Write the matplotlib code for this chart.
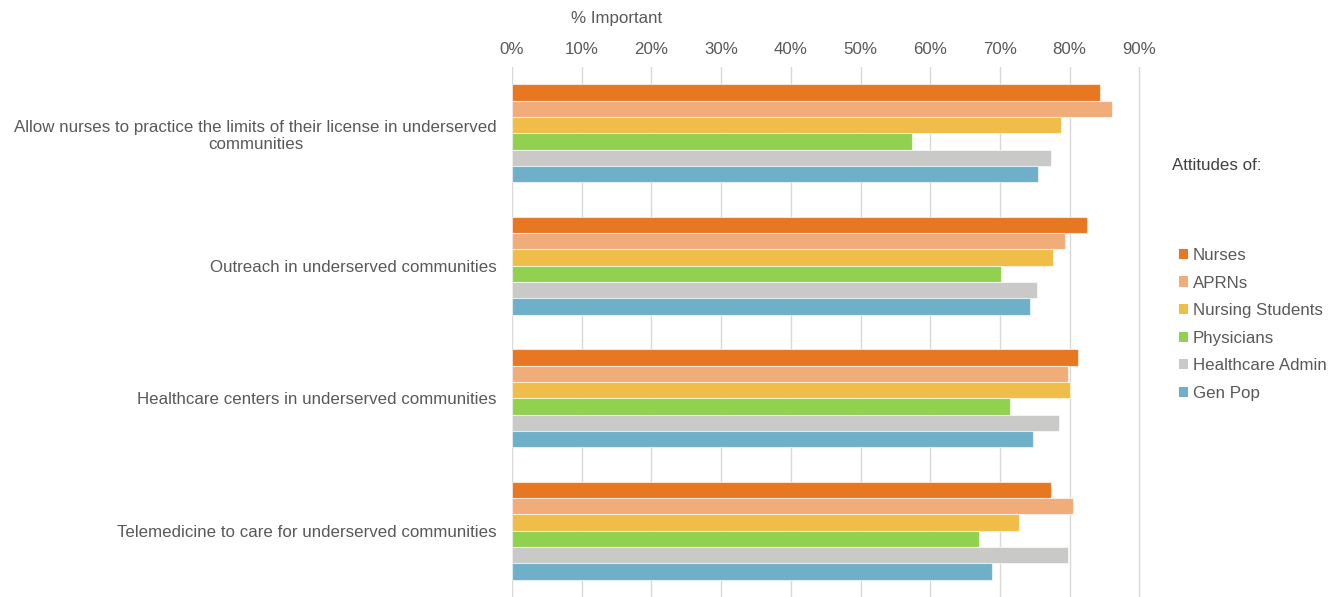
import numpy as np
import matplotlib
matplotlib.use("Agg")
import matplotlib.pyplot as plt
from matplotlib.patches import Patch
from matplotlib.ticker import PercentFormatter

plt.rcParams['font.family'] = ['Liberation Sans', 'DejaVu Sans']

# data
categories = [
    "Allow nurses to practice the limits of their license in underserved\ncommunities",
    "Outreach in underserved communities",
    "Healthcare centers in underserved communities",
    "Telemedicine to care for underserved communities",
]
groups = ["Nurses", "APRNs", "Nursing Students", "Physicians", "Healthcare Admin", "Gen Pop"]
nurses = [84.3, 82.5, 81.2, 77.4]
aprns = [86.1, 79.3, 79.7, 80.5]
students = [78.8, 77.6, 80.0, 72.8]
physicians = [57.4, 70.2, 71.4, 67.0]
admin = [77.3, 75.3, 78.5, 79.7]
gen_pop = [75.4, 74.3, 74.7, 68.8]
colors = ["#E87722", "#F0AD7A", "#F0BD48", "#92D050", "#C9C9C7", "#6FB0C9"]

series = [nurses, aprns, students, physicians, admin, gen_pop]
text_color = "#595959"
fs = 12.2

fig = plt.figure(figsize=(13.41, 5.97), dpi=100)
px10 = 69.7  # pixels per 10%
ax = fig.add_axes([512 / 1341, 0.0, px10 * 9.2 / 1341, 530 / 597])

y = np.arange(len(categories))
h = 0.123
for i, (vals, col, name) in enumerate(zip(series, colors, groups)):
    ax.barh(y + (i - 2.5) * h, vals, height=h, color=col,
            edgecolor=(1, 1, 1, 0.6), linewidth=0.8, label=name, zorder=3)

ax.set_xlim(0, 92)
ax.set_ylim(3.5, -0.5)
ax.set_xticks(np.arange(0, 91, 10))
ax.xaxis.set_major_formatter(PercentFormatter(decimals=0))
ax.xaxis.tick_top()
ax.tick_params(axis='x', length=0, pad=7.5, labelsize=fs, colors=text_color)
ax.set_yticks(y)
ax.set_yticklabels(categories, multialignment='center')
ax.tick_params(axis='y', length=0, pad=11, labelsize=fs, colors=text_color)
ax.grid(axis='x', color="#D9D9D9", linewidth=1, zorder=0)
for s in ax.spines.values():
    s.set_visible(False)

fig.text(617 / 1341, 1 - 18.5 / 597, "% Important", ha='center', va='center',
         fontsize=fs, color=text_color)
fig.text(1172 / 1341, 1 - 166 / 597, "Attitudes of:", ha='left', va='center',
         fontsize=fs, color="#404040")

handles = [Patch(facecolor=c, edgecolor='none') for c in colors]
leg = fig.legend(handles, groups, loc='upper left',
                 bbox_to_anchor=(1179 / 1341, 1 - 248 / 597),
                 frameon=False, fontsize=fs, handlelength=0.55, handleheight=0.55,
                 handletextpad=0.25, labelspacing=0.74, borderaxespad=0,
                 borderpad=0)
for t in leg.get_texts():
    t.set_color(text_color)

fig.savefig("out.png", dpi=100)
